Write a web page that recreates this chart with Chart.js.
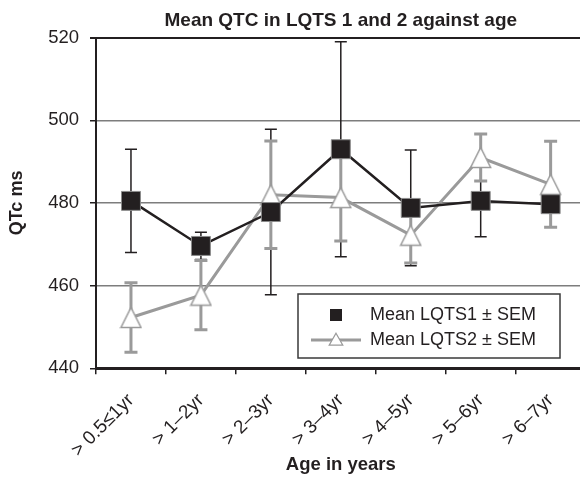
<!DOCTYPE html>
<html>
<head>
<meta charset="utf-8">
<title>Mean QTC in LQTS 1 and 2 against age</title>
<script src="https://cdn.jsdelivr.net/npm/chart.js@4.4.0/dist/chart.umd.min.js"></script>
<style>
  html, body { margin: 0; padding: 0; background: #fff; overflow: hidden; }
  #wrap { width: 580px; height: 477px; overflow: hidden; }
  canvas { display: block; }
</style>
</head>
<body>
<div id="wrap"><canvas id="qtc" width="600" height="477"></canvas></div>
<script>
// Age bands and mean QTc (ms) with standard error of the mean
const ageGroups = ['> 0.5≤1yr', '> 1–2yr', '> 2–3yr', '> 3–4yr', '> 4–5yr', '> 5–6yr', '> 6–7yr'];
const lqts1Mean = [480.5, 469.6, 477.8, 493.0, 478.8, 480.5, 479.7];
const lqts1Sem  = [12.5, 3.3, 20.0, 26.0, 14.0, 8.7, 2.0];
const lqts2Mean = [452.3, 457.7, 482.0, 481.3, 472.2, 491.0, 484.5];
const lqts2Sem  = [8.4, 8.4, 13.0, 10.5, 6.7, 5.7, 10.4];
const yTicks = [440, 460, 480, 500, 520];

const DARK = '#231f20';
const GRAY = '#9a9a9a';
const FONT = '"Liberation Sans", Arial, Helvetica, sans-serif';

// Open triangle marker, centred in its own box
function triangleMarker(w, h, lw) {
  const c = document.createElement('canvas');
  c.width = w + 2 * lw;
  c.height = h + 2 * lw;
  const g = c.getContext('2d');
  g.beginPath();
  g.moveTo(c.width / 2, lw);
  g.lineTo(c.width - lw, lw + h);
  g.lineTo(lw, lw + h);
  g.closePath();
  g.fillStyle = '#fff';
  g.fill();
  g.lineWidth = lw;
  g.strokeStyle = GRAY;
  g.stroke();
  return c;
}
const triPoint = triangleMarker(20, 20, 1.5);
const triLegend = triangleMarker(14, 12, 1.2);

// Vertical ±SEM whiskers, drawn beneath the lines and markers
const errorBars = {
  id: 'errorBars',
  beforeDatasetsDraw(chart) {
    const { ctx, scales: { x, y } } = chart;
    const sets = [
      { mean: lqts1Mean, sem: lqts1Sem, color: DARK, width: 1.5, cap: 12 },
      { mean: lqts2Mean, sem: lqts2Sem, color: GRAY, width: 3, cap: 13 }
    ];
    ctx.save();
    sets.forEach(s => {
      ctx.strokeStyle = s.color;
      ctx.lineWidth = s.width;
      s.mean.forEach((m, i) => {
        const px = x.getPixelForValue(i);
        const top = y.getPixelForValue(m + s.sem[i]);
        const bot = y.getPixelForValue(m - s.sem[i]);
        ctx.beginPath();
        ctx.moveTo(px, top); ctx.lineTo(px, bot);
        ctx.moveTo(px - s.cap / 2, top); ctx.lineTo(px + s.cap / 2, top);
        ctx.moveTo(px - s.cap / 2, bot); ctx.lineTo(px + s.cap / 2, bot);
        ctx.stroke();
      });
    });
    ctx.restore();
  }
};

// Boxed legend sitting inside the plot
const boxLegend = {
  id: 'boxLegend',
  afterDraw(chart, args, opts) {
    const { ctx } = chart;
    const ds = chart.data.datasets;
    ctx.save();
    ctx.fillStyle = '#fff';
    ctx.fillRect(opts.left, opts.top, opts.width, opts.height);
    ctx.strokeStyle = '#3a3a3a';
    ctx.lineWidth = 1.5;
    ctx.strokeRect(opts.left, opts.top, opts.width, opts.height);

    const mx = opts.left + opts.markerX;
    const r1 = opts.top + opts.row1;
    const r2 = opts.top + opts.row2;

    // row 1: filled square
    ctx.fillStyle = DARK;
    ctx.fillRect(mx - 6, r1 - 6, 12, 12);
    // row 2: grey line with open triangle
    ctx.strokeStyle = GRAY;
    ctx.lineWidth = 3;
    ctx.beginPath();
    ctx.moveTo(mx - 25, r2); ctx.lineTo(mx + 25, r2);
    ctx.stroke();
    ctx.drawImage(triLegend, mx - triLegend.width / 2, r2 - triLegend.height / 2 - 1);

    ctx.fillStyle = DARK;
    ctx.font = '18px ' + FONT;
    ctx.textAlign = 'left';
    ctx.textBaseline = 'middle';
    ctx.fillText(ds[0].label, opts.left + opts.textX, r1);
    ctx.fillText(ds[1].label, opts.left + opts.textX, r2);
    ctx.restore();
  }
};

new Chart(document.getElementById('qtc'), {
  type: 'line',
  data: {
    labels: ageGroups,
    datasets: [
      {
        label: 'Mean LQTS1 ± SEM',
        data: lqts1Mean,
        borderColor: DARK,
        borderWidth: 2.5,
        pointStyle: 'rect',
        pointRadius: 13.4,
        pointBackgroundColor: DARK,
        pointBorderColor: '#8c8c8c',
        pointBorderWidth: 1,
        tension: 0
      },
      {
        label: 'Mean LQTS2 ± SEM',
        data: lqts2Mean,
        borderColor: GRAY,
        borderWidth: 3,
        pointStyle: triPoint,
        pointRadius: 11,
        tension: 0
      }
    ]
  },
  options: {
    responsive: false,
    devicePixelRatio: 1,
    animation: false,
    layout: { padding: { left: 0, right: 7, top: 0, bottom: 0 } },
    plugins: {
      legend: { display: false },
      tooltip: { enabled: false },
      title: {
        display: true,
        fullSize: false,
        text: 'Mean QTC in LQTS 1 and 2 against age',
        color: DARK,
        font: { family: FONT, size: 19, weight: 'bold' },
        padding: { top: 9.5, bottom: 5.3 }
      },
      boxLegend: {
        left: 298, top: 294, width: 262, height: 64,
        markerX: 38, textX: 72, row1: 21, row2: 46
      }
    },
    scales: {
      x: {
        type: 'category',
        offset: true,
        afterFit(scale) { scale.height = 108.7; },
        border: { color: DARK, width: 3 },
        grid: {
          offset: true,
          drawOnChartArea: false,
          drawTicks: true,
          tickLength: 6,
          tickColor: DARK,
          lineWidth: 1.5
        },
        ticks: {
          color: DARK,
          font: { family: FONT, size: 19 },
          maxRotation: 45,
          minRotation: 45,
          autoSkip: false,
          padding: 15
        },
        title: {
          display: true,
          text: 'Age in years',
          color: DARK,
          font: { family: FONT, size: 18.5, weight: 'bold' },
          padding: { top: 0, bottom: 0.5 }
        }
      },
      y: {
        min: 440,
        max: 520,
        afterFit(scale) { scale.width = 96; },
        afterBuildTicks(scale) { scale.ticks = yTicks.map(v => ({ value: v })); },
        border: { color: DARK, width: 2 },
        grid: {
          color: c => (c.tick && c.tick.value === 520 ? DARK : '#7d7d7d'),
          lineWidth: c => (c.tick && c.tick.value === 520 ? 2 : 1.5),
          tickColor: DARK,
          tickLength: 6,
          drawTicks: true
        },
        ticks: {
          color: DARK,
          font: { family: FONT, size: 18.5 },
          padding: 11
        },
        title: {
          display: true,
          text: 'QTc ms',
          color: DARK,
          font: { family: FONT, size: 18, weight: 'bold' },
          padding: { top: 6, bottom: 0 }
        }
      }
    }
  },
  plugins: [errorBars, boxLegend]
});
</script>
</body>
</html>
